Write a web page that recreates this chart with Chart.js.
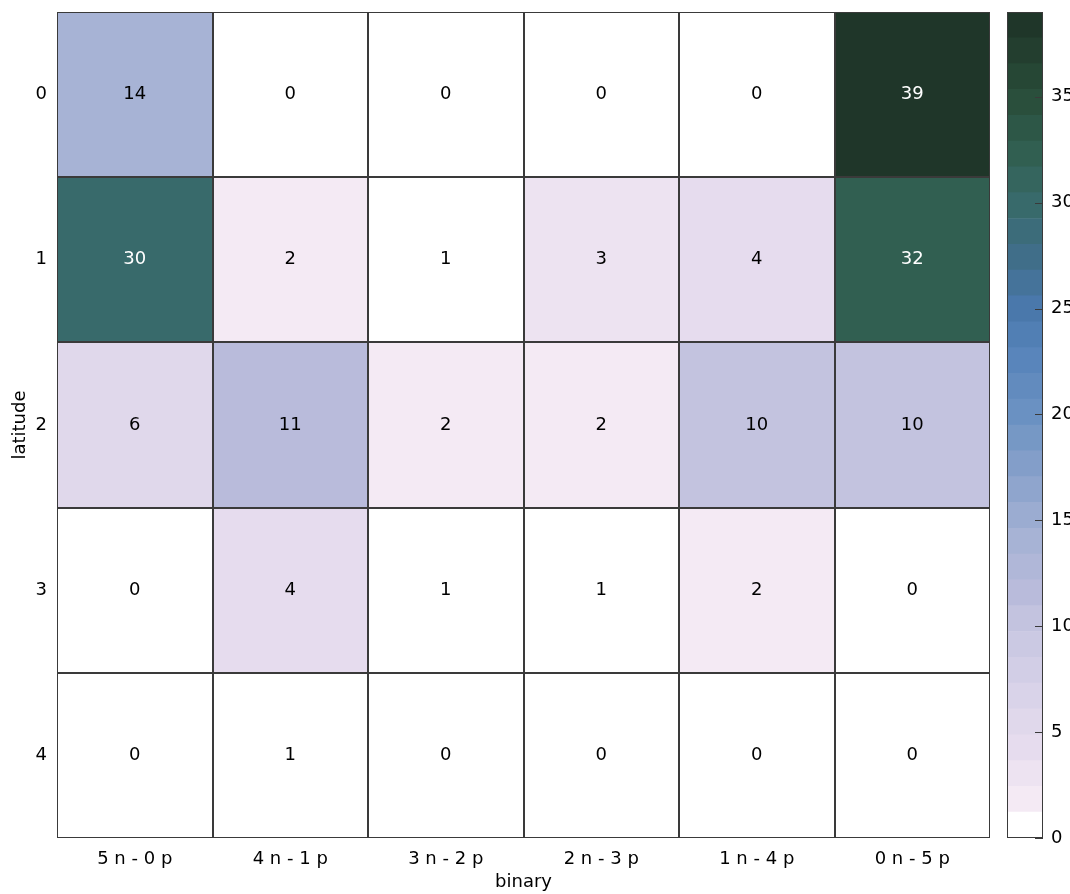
<!DOCTYPE html>
<html>
<head>
<meta charset="utf-8">
<script src="https://cdn.jsdelivr.net/npm/chart.js@4/dist/chart.umd.min.js"></script>
<style>
body { margin: 0; background: #fff; overflow: hidden; }
#wrap { position: relative; width: 1070px; height: 894px; }
.box { position: absolute; top: 0; height: 894px; }
</style>
</head>
<body>
<div id="wrap">
	<div class="box" style="left:0;width:1000px"><canvas id="main"></canvas></div>
	<div class="box" style="left:1000px;width:70px"><canvas id="cbar"></canvas></div>
</div>
<script>
// data
var binaryLabels = ["5 n - 0 p", "4 n - 1 p", "3 n - 2 p", "2 n - 3 p", "1 n - 4 p", "0 n - 5 p"];
var latitudeLabels = ["0", "1", "2", "3", "4"];
var lat0 = [14, 0, 0, 0, 0, 39];
var lat1 = [30, 2, 1, 3, 4, 32];
var lat2 = [6, 11, 2, 2, 10, 10];
var lat3 = [0, 4, 1, 1, 2, 0];
var lat4 = [0, 1, 0, 0, 0, 0];
var rows = [lat0, lat1, lat2, lat3, lat4];
var cbarTicks = [0, 5, 10, 15, 20, 25, 30, 35];
var cbarMax = 39;
var cbarLevels = 32;

// colour map (light -> dark)
var anchors = [
	[0, "#ffffff"], [1.83, "#f4eaf4"], [3.05, "#ede3f1"], [4.27, "#e6dcee"], [5.48, "#e0d8eb"],
	[8, "#d2cee6"], [10.36, "#c3c3df"], [11.58, "#b9bbdb"], [14.02, "#a7b3d5"], [17, "#8aa2cb"],
	[20, "#6b92c2"], [23, "#5683ba"], [25, "#4a78ab"], [27, "#416f8e"], [29.86, "#386a6b"],
	[32.3, "#315f51"], [35, "#294d3a"], [38.39, "#1f3629"]
];
function hex2rgb(h) {
	return [parseInt(h.substr(1, 2), 16), parseInt(h.substr(3, 2), 16), parseInt(h.substr(5, 2), 16)];
}
function interp(v) {
	for (var i = 0; i < anchors.length - 1; i++) {
		var a = anchors[i], b = anchors[i + 1];
		if (v <= b[0]) {
			var t = (v - a[0]) / (b[0] - a[0]);
			var ca = hex2rgb(a[1]), cb = hex2rgb(b[1]);
			return "rgb(" + ca.map(function(c, k){ return Math.round(c + (cb[k] - c) * t); }).join(",") + ")";
		}
	}
	return anchors[anchors.length - 1][1];
}
var binW = cbarMax / cbarLevels;
function binColor(b) {
	if (b <= 0) return "#ffffff";
	return interp((b + 0.5) * binW);
}
function colorFor(v) {
	return binColor(Math.min(cbarLevels - 1, Math.floor(v / binW)));
}

var FONT = "DejaVu Sans";
Chart.defaults.font.family = FONT;
Chart.defaults.font.size = 18;
Chart.defaults.color = "#000";

var cellPlugin = {
	id: "cells",
	afterDatasetsDraw: function(chart) {
		var ctx = chart.ctx;
		ctx.save();
		ctx.strokeStyle = "#3a3a3a";
		ctx.lineWidth = 1;
		ctx.font = "18px '" + FONT + "'";
		ctx.textAlign = "center";
		ctx.textBaseline = "middle";
		chart.data.datasets.forEach(function(ds, i) {
			chart.getDatasetMeta(i).data.forEach(function(bar, j) {
				var p = bar.getProps(["x", "y", "base", "width"], true);
				var l = Math.round(p.x - p.width / 2), r = Math.round(p.x + p.width / 2);
				var t = Math.round(Math.min(p.y, p.base)), b = Math.round(Math.max(p.y, p.base));
				ctx.strokeRect(l + 0.5, t + 0.5, r - l - 1, b - t - 1);
				var v = ds.values[j];
				ctx.fillStyle = v >= 25 ? "#ffffff" : "#000000";
				ctx.fillText(String(v), p.x, (p.y + p.base) / 2);
			});
		});
		ctx.restore();
	}
};

var datasets = rows.map(function(row, i) {
	return {
		label: latitudeLabels[i],
		values: row,
		data: row.map(function(){ return [i - 0.5, i + 0.5]; }),
		backgroundColor: row.map(colorFor),
		borderWidth: 0,
		grouped: false,
		barPercentage: 1,
		categoryPercentage: 1
	};
});

new Chart(document.getElementById("main"), {
	type: "bar",
	data: { labels: binaryLabels, datasets: datasets },
	options: {
		responsive: true,
		maintainAspectRatio: false,
		animation: false,
		layout: { padding: { top: 12, right: 10, left: 0, bottom: 0 } },
		plugins: { legend: { display: false }, tooltip: { enabled: false } },
		scales: {
			x: {
				grid: { display: false, drawTicks: false },
				border: { display: false },
				ticks: { padding: 11, maxRotation: 0 },
				title: { display: true, text: "binary", padding: { top: 0, bottom: 1 } },
				afterFit: function(s){ s.height = 56; }
			},
			y: {
				min: -0.5,
				max: 4.5,
				reverse: true,
				grid: { display: false, drawTicks: false },
				border: { display: false },
				afterBuildTicks: function(s){
					s.ticks = latitudeLabels.map(function(l, i){ return { value: i }; });
				},
				ticks: {
					padding: 10,
					callback: function(v, idx){ return latitudeLabels[idx]; }
				},
				title: { display: true, text: "latitude", padding: { top: 10, bottom: 0 } },
				afterFit: function(s){ s.width = 57; s.paddingTop = 0; s.paddingBottom = 0; }
			}
		}
	},
	plugins: [cellPlugin]
});

// colorbar
var cbarPlugin = {
	id: "cbarFrame",
	afterDatasetsDraw: function(chart) {
		var ctx = chart.ctx, a = chart.chartArea, y = chart.scales.y;
		ctx.save();
		ctx.strokeStyle = "#3a3a3a";
		ctx.lineWidth = 1;
		ctx.strokeRect(Math.round(a.left) + 0.5, Math.round(a.top) + 0.5,
			Math.round(a.right - a.left) - 1, Math.round(a.bottom - a.top) - 1);
		cbarTicks.forEach(function(t) {
			var py = Math.round(y.getPixelForValue(t)) + 0.5;
			ctx.beginPath();
			ctx.moveTo(a.right - 8, py);
			ctx.lineTo(a.right, py);
			ctx.stroke();
		});
		ctx.restore();
	}
};

var cbarSets = [];
for (var b = 0; b < cbarLevels; b++) {
	cbarSets.push({
		data: [[b * binW, (b + 1) * binW]],
		backgroundColor: binColor(b),
		borderWidth: 0,
		grouped: false,
		barPercentage: 1,
		categoryPercentage: 1
	});
}

new Chart(document.getElementById("cbar"), {
	type: "bar",
	data: { labels: [""], datasets: cbarSets },
	options: {
		responsive: true,
		maintainAspectRatio: false,
		animation: false,
		layout: { padding: { top: 12, right: 0, left: 7, bottom: 56 } },
		plugins: { legend: { display: false }, tooltip: { enabled: false } },
		scales: {
			x: { display: false },
			y: {
				position: "right",
				min: 0,
				max: cbarMax,
				grid: { display: false, drawTicks: false },
				border: { display: false },
				afterBuildTicks: function(s){
					s.ticks = cbarTicks.map(function(t){ return { value: t }; });
				},
				ticks: { padding: 8 },
				afterFit: function(s){ s.width = 27; s.paddingTop = 0; s.paddingBottom = 0; }
			}
		}
	},
	plugins: [cbarPlugin]
});
</script>
</body>
</html>
